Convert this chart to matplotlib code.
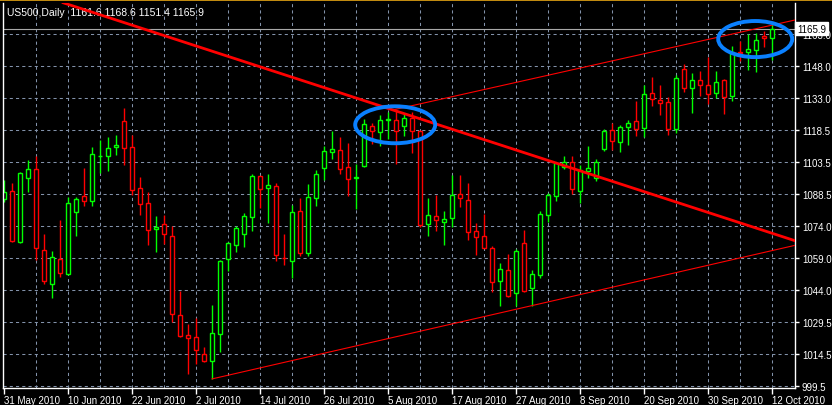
import numpy as np
import matplotlib
matplotlib.use("Agg")
import matplotlib.pyplot as plt
from matplotlib.patches import Rectangle, Ellipse

plt.rcParams['font.family'] = ['Liberation Sans', 'DejaVu Sans']

# Daily bars, 31 May 2010 .. 12 Oct 2010 (one bar per weekday)
opens = [1086.6, 1090.1, 1066.4, 1096.5, 1100.4, 1062.7, 1046.8, 1058.5, 1051.5, 1080.4,
         1087.8, 1085.5, 1106.4, 1106.4, 1110.6, 1122.7, 1110.6, 1091.5, 1084.6, 1072.5,
         1074.8, 1069.2, 1032.6, 1023.1, 1022.2, 1014.3, 1011.0, 1023.6, 1058.5, 1065.0,
         1070.1, 1078.0, 1097.1, 1091.7, 1092.5, 1059.3, 1057.8, 1080.8, 1061.6, 1087.2,
         1101.1, 1108.3, 1109.2, 1101.3, 1096.3, 1101.8, 1120.4, 1117.6, 1123.3, 1123.2,
         1120.4, 1124.1, 1118.3, 1075.1, 1078.5, 1075.7, 1077.6, 1088.7, 1086.0, 1071.5,
         1069.2, 1063.6, 1048.2, 1053.4, 1042.7, 1065.9, 1045.0, 1051.0, 1078.9, 1087.8,
         1101.3, 1103.6, 1090.1, 1099.4, 1096.3, 1110.0, 1118.5, 1112.9, 1119.9, 1122.7,
         1119.5, 1135.8, 1132.5, 1131.6, 1119.3, 1146.9, 1138.1, 1141.8, 1139.5, 1135.8,
         1141.8, 1134.4, 1154.8, 1154.8, 1155.8, 1162.4, 1161.6]
highs = [1095.4, 1094.0, 1099.0, 1104.7, 1106.4, 1070.3, 1062.3, 1076.8, 1087.3, 1087.3,
         1101.0, 1110.8, 1114.0, 1115.4, 1116.3, 1128.9, 1116.5, 1096.8, 1089.8, 1078.6,
         1079.2, 1074.0, 1043.7, 1028.2, 1031.0, 1017.5, 1037.2, 1058.2, 1066.7, 1073.8,
         1080.0, 1098.2, 1097.4, 1098.2, 1094.0, 1070.3, 1083.8, 1087.0, 1093.5, 1100.1,
         1111.2, 1118.1, 1115.4, 1112.6, 1102.8, 1123.8, 1121.9, 1125.7, 1126.9, 1127.5,
         1126.1, 1127.1, 1118.8, 1087.0, 1088.3, 1080.8, 1097.7, 1097.7, 1094.0, 1075.4,
         1079.6, 1064.5, 1056.8, 1061.0, 1063.1, 1072.0, 1053.4, 1080.8, 1089.2, 1103.8,
         1106.4, 1106.4, 1102.4, 1111.2, 1105.0, 1119.1, 1121.8, 1121.0, 1123.2, 1132.2,
         1139.6, 1143.2, 1139.6, 1133.9, 1144.1, 1149.3, 1145.1, 1146.0, 1152.5, 1146.0,
         1142.4, 1158.0, 1160.0, 1163.4, 1163.8, 1164.8, 1168.6]
lows = [1085.0, 1066.7, 1066.0, 1090.0, 1058.3, 1047.0, 1040.5, 1050.4, 1051.0, 1069.5,
        1083.4, 1083.4, 1098.7, 1099.7, 1107.2, 1102.5, 1088.4, 1079.2, 1065.3, 1062.0,
        1065.5, 1029.4, 1022.3, 1005.1, 1009.7, 1010.5, 1002.8, 1015.2, 1053.2, 1062.0,
        1064.4, 1071.8, 1082.2, 1075.4, 1057.8, 1056.0, 1049.8, 1060.0, 1060.2, 1083.4,
        1095.5, 1105.2, 1098.3, 1088.1, 1081.9, 1101.5, 1112.3, 1111.4, 1114.5, 1102.8,
        1115.7, 1107.8, 1073.7, 1069.5, 1071.8, 1065.3, 1073.7, 1083.0, 1067.6, 1060.6,
        1063.7, 1043.4, 1036.6, 1040.8, 1036.6, 1043.3, 1036.6, 1049.9, 1075.7, 1085.5,
        1100.5, 1089.1, 1084.8, 1096.1, 1094.7, 1109.0, 1109.5, 1108.6, 1111.8, 1116.0,
        1115.6, 1130.0, 1125.8, 1116.5, 1117.4, 1136.2, 1126.7, 1134.6, 1130.6, 1133.4,
        1126.3, 1132.0, 1150.7, 1146.6, 1145.9, 1157.2, 1151.4]
closes = [1089.7, 1067.1, 1098.5, 1100.4, 1063.6, 1048.2, 1059.4, 1052.0, 1084.6, 1086.6,
          1085.5, 1107.4, 1106.8, 1110.2, 1111.8, 1110.2, 1090.6, 1084.1, 1072.0, 1073.4,
          1070.1, 1033.0, 1022.6, 1021.7, 1016.1, 1011.0, 1024.0, 1057.6, 1065.9, 1072.9,
          1078.5, 1097.1, 1091.1, 1092.9, 1060.3, 1058.9, 1080.4, 1061.6, 1087.3, 1098.1,
          1108.8, 1109.7, 1100.7, 1095.7, 1096.6, 1121.3, 1118.1, 1123.2, 1123.6, 1118.1,
          1124.1, 1118.3, 1074.6, 1079.0, 1076.6, 1077.1, 1088.3, 1086.9, 1071.1, 1068.7,
          1063.9, 1047.8, 1053.8, 1041.3, 1062.2, 1043.6, 1051.5, 1079.4, 1088.3, 1103.2,
          1103.6, 1091.0, 1100.1, 1100.8, 1103.6, 1118.1, 1113.4, 1119.9, 1121.8, 1119.3,
          1135.3, 1133.0, 1131.1, 1119.3, 1142.7, 1138.1, 1141.8, 1139.5, 1135.3, 1140.9,
          1133.9, 1154.8, 1154.4, 1156.2, 1160.4, 1161.4, 1165.9]

date_labels = ['31 May 2010', '10 Jun 2010', '22 Jun 2010', '2 Jul 2010', '14 Jul 2010',
               '26 Jul 2010', '5 Aug 2010', '17 Aug 2010', '27 Aug 2010', '8 Sep 2010',
               '20 Sep 2010', '30 Sep 2010', '12 Oct 2010']
price_labels = ['999.5', '1014.5', '1029.5', '1044.0', '1059.0', '1074.0',
                '1088.5', '1103.5', '1118.5', '1133.0', '1148.0', '1163.0']

# hand drawn objects: (bar index, price)
resist_x, resist_y = [7.4, 98.9], [1177.9, 1067.1]
support_x, support_y = [26, 98.9], [1002.8, 1065.0]
channel_x, channel_y = [48.6, 98.9], [1128.0, 1169.9]
circle_x = [48.9, 93.9]
circle_y = [1121.1, 1161.0]
circle_w = [10.0, 9.25]
circle_h = [17.2, 16.8]

W, H = 832, 406
fig = plt.figure(figsize=(W / 100, H / 100), dpi=100, facecolor='black')
ax = fig.add_axes([3 / W, 17 / H, 792 / W, 385 / H], facecolor='black')

n = len(closes)
idx = np.arange(n)
ax.set_xlim(-0.125, 98.875)
ax.set_ylim(998.57, 1177.79)

# grid
grid_col = '#8292aa'
price_ticks = 999.5 + 14.9 * np.arange(len(price_labels))
for p in price_ticks:
    ax.axhline(p, color=grid_col, lw=0.75, ls=(0, (3, 3)), zorder=0)
for g in range(4, n, 4):
    ax.axvline(g, color=grid_col, lw=0.75, ls=(0, (3, 3)), zorder=0)

# current price line
ax.axhline(closes[-1], color='#a8a8a8', lw=0.8, zorder=0.5)

# candles
for i in idx:
    up = closes[i] >= opens[i]
    col = '#00ff00' if up else '#ff0000'
    ax.vlines(i, lows[i], highs[i], color=col, lw=1.0, zorder=2)
    lo, hi = min(opens[i], closes[i]), max(opens[i], closes[i])
    ax.add_patch(Rectangle((i - 0.25, lo), 0.5, hi - lo, facecolor='black',
                           edgecolor=col, lw=1.0, zorder=2.5))

# trend lines
ax.plot(resist_x, resist_y, color='#ff0000', lw=2.0, zorder=3)
ax.plot(support_x, support_y, color='#ff0000', lw=0.8, zorder=3)
ax.plot(channel_x, channel_y, color='#ff0000', lw=0.8, zorder=3)

# circles
for cx, cy, cw, ch in zip(circle_x, circle_y, circle_w, circle_h):
    ax.add_patch(Ellipse((cx, cy), cw, ch, fill=False, edgecolor='#0a80ff', lw=2.8, zorder=4))

# title
ax.text(4 / 792, 1 - 9 / 385, 'US500,Daily  %.1f %.1f %.1f %.1f' % (opens[-1], highs[-1], lows[-1], closes[-1]),
        transform=ax.transAxes, color='white', fontsize=7.5, va='center', ha='left', zorder=1)

# axes styling
for s in ['left', 'right', 'bottom']:
    ax.spines[s].set_color('white')
    ax.spines[s].set_linewidth(1)
ax.spines['top'].set_visible(False)

ax.set_xticks(list(range(0, n, 8)))
ax.set_xticklabels(date_labels)
for lbl in ax.get_xticklabels():
    lbl.set_horizontalalignment('left')
ax.tick_params(axis='x', colors='white', length=4, width=1, labelsize=7, pad=1)

ax.yaxis.tick_right()
ax.set_yticks(price_ticks)
ax.set_yticklabels(price_labels)
ax.tick_params(axis='y', colors='white', length=3, width=1, labelsize=7, pad=2)

# last price box on the price scale
ax.text(1.003, closes[-1], '%.1f' % closes[-1], transform=ax.get_yaxis_transform(),
        color='black', fontsize=7, va='center', ha='left', zorder=6, clip_on=False,
        bbox=dict(boxstyle='square,pad=0.2', facecolor='white', edgecolor='white'))

# top window strip
fig.add_artist(Rectangle((0, 1 - 2 / H), 1, 2 / H, transform=fig.transFigure,
                         facecolor='#c08a10', edgecolor='none'))

fig.savefig('out.png', dpi=100, facecolor='black')
